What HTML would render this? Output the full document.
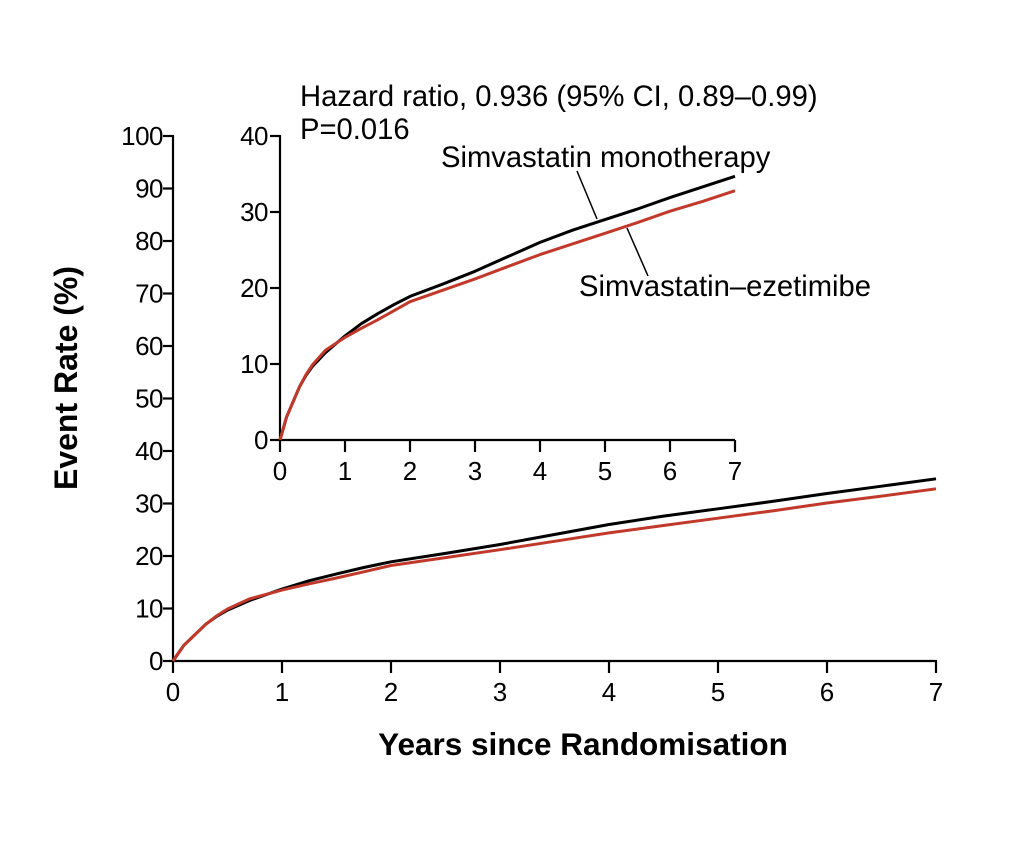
<!DOCTYPE html>
<html><head><meta charset="utf-8"><style>
html,body{margin:0;padding:0;background:#fff}
text{font-family:"Liberation Sans",Arial,sans-serif;fill:#000}
</style></head><body>
<svg id="s" width="1022" height="839" viewBox="0 0 1022 839" xmlns="http://www.w3.org/2000/svg">
<g stroke="#000" stroke-width="2.2" fill="none">
<line x1="173" y1="135" x2="173" y2="662"/>
<line x1="172" y1="661" x2="937" y2="661"/>
<line x1="280" y1="135" x2="280" y2="441"/>
<line x1="279" y1="440" x2="735" y2="440"/>
<line x1="577" y1="171" x2="597" y2="219" stroke-width="1.5"/>
<line x1="627" y1="228" x2="648" y2="276" stroke-width="1.5"/>
</g>
<g id="ticks" stroke="#000" stroke-width="2.2"></g>
<g id="labels" font-size="26"></g>
<g id="curves" fill="none" stroke-width="3" stroke-linejoin="round"></g>
<text x="300" y="106" font-size="29.2">Hazard ratio, 0.936 (95% CI, 0.89–0.99)</text>
<text x="300" y="139" font-size="29.2">P=0.016</text>
<text x="441" y="167" font-size="29.2">Simvastatin monotherapy</text>
<text x="579" y="296" font-size="29.2">Simvastatin–ezetimibe</text>
<text x="583" y="755" font-size="31.5" font-weight="bold" text-anchor="middle">Years since Randomisation</text>
<text transform="translate(77,378) rotate(-90)" font-size="32" font-weight="bold" text-anchor="middle">Event Rate (%)</text>
</svg>
<script>
var NS="http://www.w3.org/2000/svg";
function el(p,t,a,txt){var e=document.createElementNS(NS,t);for(var k in a)e.setAttribute(k,a[k]);if(txt!=null)e.textContent=txt;document.getElementById(p).appendChild(e);}
for(var v=0;v<=100;v+=10){var y=661-v*5.25;el("ticks","line",{x1:163,y1:y,x2:173,y2:y});el("labels","text",{x:163,y:y+9,"text-anchor":"end","letter-spacing":"-0.5"},v);}
for(var i=0;i<=7;i++){var x=173+i*109;el("ticks","line",{x1:x,y1:661,x2:x,y2:673});el("labels","text",{x:x,y:701,"text-anchor":"middle"},i);}
for(var v=0;v<=40;v+=10){var y=440-v*7.6;el("ticks","line",{x1:270,y1:y,x2:280,y2:y});el("labels","text",{x:268,y:y+9,"text-anchor":"end","letter-spacing":"-0.5"},v);}
for(var i=0;i<=7;i++){var x=280+i*65;el("ticks","line",{x1:x,y1:440,x2:x,y2:452});el("labels","text",{x:x,y:480,"text-anchor":"middle"},i);}
var B=[[0,0],[0.05,1.5],[0.1,3],[0.2,5],[0.3,7],[0.4,8.5],[0.5,9.7],[0.7,11.5],[1,13.7],[1.25,15.3],[1.5,16.6],[1.75,17.8],[2,18.9],[2.5,20.5],[3,22.2],[3.5,24.1],[4,26],[4.5,27.6],[5,29],[5.5,30.4],[6,31.9],[6.5,33.3],[7,34.7]];
var R=[[0,0],[0.05,1.5],[0.1,3],[0.2,5],[0.3,7],[0.4,8.6],[0.5,9.9],[0.7,11.8],[1,13.5],[1.25,14.7],[1.5,15.8],[1.75,17],[2,18.2],[2.5,19.7],[3,21.2],[3.5,22.8],[4,24.4],[4.5,25.8],[5,27.2],[5.5,28.6],[6,30.1],[6.5,31.4],[7,32.8]];
function path(d,x0,xs,y0,ys){return d.map(function(p,i){return (i?"L":"M")+(x0+p[0]*xs).toFixed(1)+","+(y0-p[1]*ys).toFixed(1)}).join("");}
el("curves","path",{d:path(B,173,109,661,5.25),stroke:"#000"});
el("curves","path",{d:path(R,173,109,661,5.25),stroke:"#c0392b"});
el("curves","path",{d:path(B,280,65,440,7.6),stroke:"#000"});
el("curves","path",{d:path(R,280,65,440,7.6),stroke:"#c0392b"});
</script>
</body></html>
